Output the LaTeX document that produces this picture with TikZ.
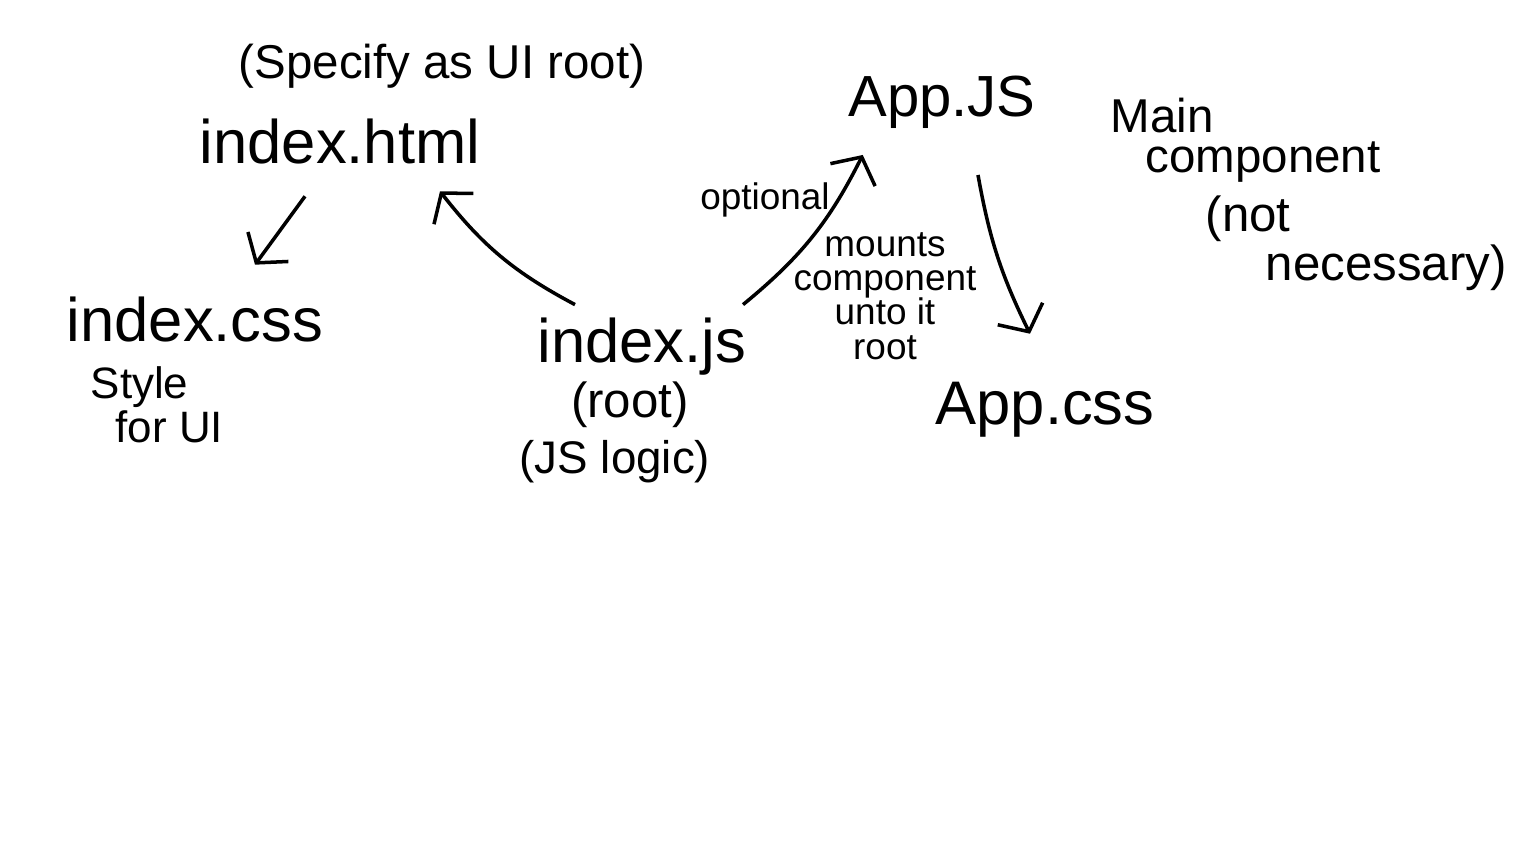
\documentclass[tikz,border=0pt]{standalone}
\usepackage{xcolor}
\usepackage{fontspec}
\setmainfont{Liberation Sans}
\usepackage{tikz}
\usetikzlibrary{shapes,arrows.meta,positioning}

\begin{document}
\begin{tikzpicture}[x=0.01cm, y=-0.01cm,
    file/.style={inner sep=0pt, font=\fontsize{17.5}{20}\selectfont},
    note/.style={inner sep=0pt, font=\fontsize{13}{13}\selectfont, align=left},
    side/.style={inner sep=0pt, font=\fontsize{14}{12}\selectfont, align=left, anchor=north west},
    small/.style={inner sep=0pt, font=\fontsize{10.5}{9.8}\selectfont, align=center},
    link/.style={line width=1pt, -{Straight Barb[length=2mm,width=5mm]}}]
    \useasboundingbox[fill=white] (0,0) rectangle (1536,864);
    % left side
    \node[note, font=\fontsize{13.5}{14}\selectfont] (spec) at (442,66) {(Specify as UI root)};
    \node[file] (html) at (340,142) {index.html};
    \node[file] (css) at (195,320) {index.css};
    \node[note, font=\fontsize{12.5}{12.5}\selectfont, anchor=west] (cssnote) at (90,405) {Style\\\hspace{2.5mm}for UI};
    % middle
    \node[file] (js) at (642,347) {index.js};
    \node[note, font=\fontsize{14}{14}\selectfont] (jsroot) at (630,405) {(root)};
    \node[note] (jslogic) at (615,462) {(JS logic)};
    \node[small] (optional) at (765,200) {optional};
    \node[small] (mounts) at (885,296) {mounts\\component\\unto it\\root};
    % right side
    \node[file, font=\fontsize{16.5}{20}\selectfont] (app) at (942,102) {App.JS};
    \node[file] (appcss) at (1045,410) {App.css};
    \node[side, font=\fontsize{13.5}{11.5}\selectfont] (main) at (1110,97) {Main\\\hspace{3.5mm}component};
    \node[side] (notnec) at (1205,195) {(not\\\hspace{6mm}necessary)};
    % arrows
    \draw[link] ([shift={(-35,31)}]html.south) -- ([shift={(60,-32)}]css.north);
    \draw[link] ([shift={(-67,-13)}]js.north) to[bend left=12] ([shift={(100,26)}]html.south);
    \draw[link] ([shift={(-4,-13)}]js.north east) to[bend right=12] ([shift={(15,26)}]app.south west);
    \draw[link] ([shift={(36,46)}]app.south) to[bend right=8] ([shift={(-15,-48)}]appcss.north);
\end{tikzpicture}
\end{document}
